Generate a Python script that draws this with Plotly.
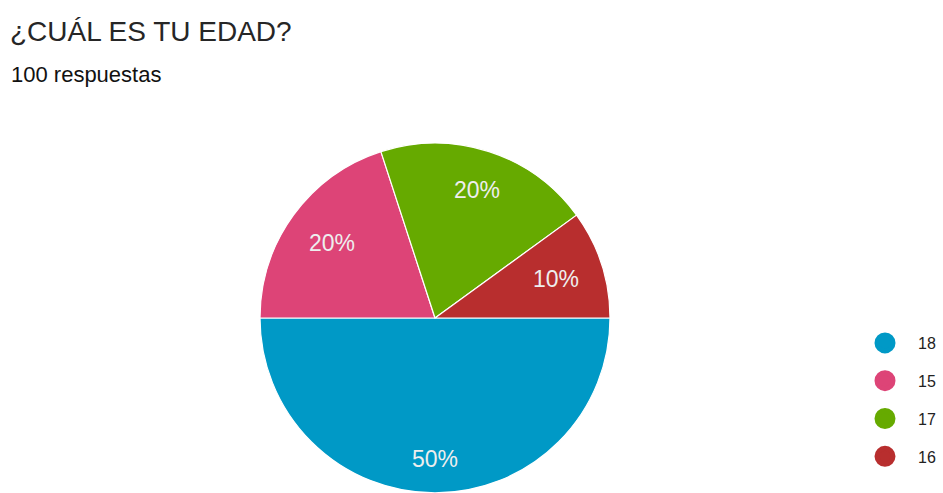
import math
import plotly.graph_objects as go

labels = ["18", "15", "17", "16"]
values = [50, 20, 20, 10]
colors = ["#0099C6", "#DD4477", "#66AA00", "#B82E2E"]
title_text = "¿CUÁL ES TU EDAD?"
subtitle_text = "100 respuestas"

W, H = 943, 493
CX, R = 435, 175          # pie centre x and radius (px)
CY = H - R                # pie touches the bottom edge
LABEL_REACH = 0.865 * R   # farthest corner of a label box from the centre
LABEL_SIZE = 23
HW, HH = 1.0 * LABEL_SIZE, 8.5   # approx half width / half height of a label

fig = go.Figure()
fig.add_trace(go.Pie(
    labels=labels, values=values, sort=False, direction="clockwise", rotation=90,
    marker=dict(colors=colors, line=dict(color="white", width=1.2)),
    textinfo="none", showlegend=False, hoverinfo="label+percent",
    domain=dict(x=[(CX - R) / W, (CX + R) / W], y=[0, 2 * R / H]),
))

for lab, col in zip(labels, colors):
    fig.add_trace(go.Scatter(
        x=[None], y=[None], mode="markers", name=lab, legendgroup=lab,
        marker=dict(symbol="circle", size=20, color=col, line=dict(color=col, width=5)),
    ))


def sgn(v):
    return 0.0 if abs(v) < 1e-9 else math.copysign(1.0, v)


# percentage labels placed along each slice's mid-angle so that the
# outer corner of the text box stays a fixed distance from the centre
total = sum(values)
annotations = []
start = 0.0  # degrees, 3 o'clock, going clockwise
for v in values:
    share = v / total
    mid = math.radians(start - 180 * share)
    start -= 360 * share
    c, s = math.cos(mid), math.sin(mid)
    p = HW * (sgn(c) if sgn(c) else 1.0)
    q = HH * sgn(s)
    k = c * p + s * q
    d = -k + math.sqrt(k * k - (p * p + q * q - LABEL_REACH ** 2))
    px = CX + d * c
    py = CY - d * s
    annotations.append(dict(
        text=f"{share:.0%}", x=px / W, y=1 - py / H, xref="paper", yref="paper",
        xanchor="center", yanchor="middle", showarrow=False,
        font=dict(size=LABEL_SIZE, color="#EEEEEE", family="Liberation Sans")))

annotations += [
    dict(text=title_text, x=8 / W, y=1 - 31 / H, xref="paper", yref="paper",
         xanchor="left", yanchor="middle", showarrow=False,
         font=dict(size=28, color="#262626", family="Liberation Sans")),
    dict(text=subtitle_text, x=9 / W, y=1 - 75 / H, xref="paper", yref="paper",
         xanchor="left", yanchor="middle", showarrow=False,
         font=dict(size=22, color="#111111", family="Liberation Sans")),
]

fig.update_layout(
    width=W, height=H,
    margin=dict(l=0, r=0, t=0, b=0),
    paper_bgcolor="white", plot_bgcolor="white",
    xaxis=dict(visible=False), yaxis=dict(visible=False),
    legend=dict(x=852 / W, xanchor="left", y=1 - 326 / H, yanchor="top",
                font=dict(size=16, color="#222222", family="Liberation Sans"),
                tracegroupgap=14, itemsizing="trace", itemwidth=56,
                bgcolor="rgba(0,0,0,0)"),
    annotations=annotations,
)

fig.write_html("out.html", config={"displayModeBar": False},
               post_script="document.body.style.margin='0';")
